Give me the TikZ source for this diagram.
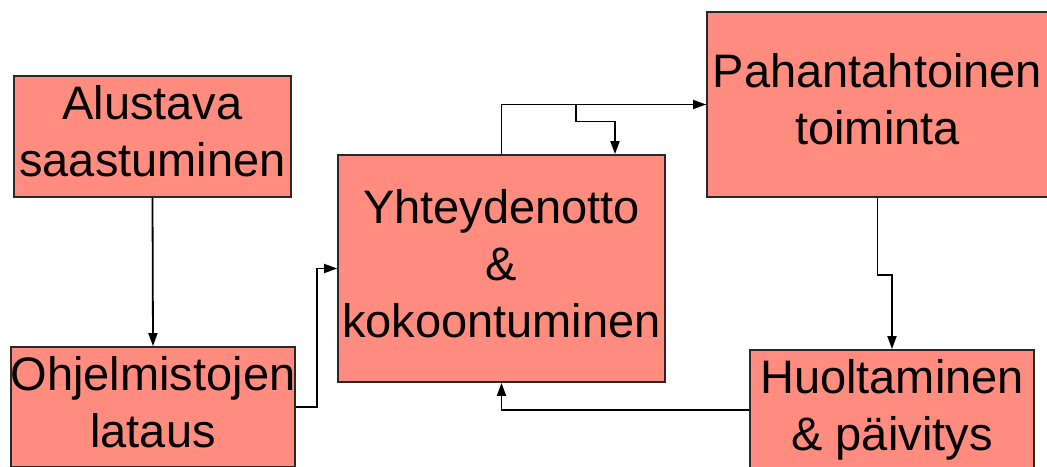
\documentclass[tikz,border=0pt]{standalone}
\usepackage{fontspec}
\setmainfont{Liberation Sans}
\usetikzlibrary{arrows.meta}
\definecolor{boxred}{RGB}{255,140,126}
\definecolor{linegray}{RGB}{40,40,40}

\begin{document}
\begin{tikzpicture}[x=1pt, y=-1pt, line width=1.8pt,
		box/.style={rectangle,draw=linegray,fill=boxred,inner sep=0pt,align=center,text depth=11pt,font=\fontsize{47}{57}\selectfont},
		conn/.style={draw=black,line width=1.8pt,-{Triangle[length=13pt,width=9pt]}}]
		\clip (0,0) rectangle (1047,466);
		\fill[white] (0,0) rectangle (1047,466);

		\node[box,minimum width=277,minimum height=121] (alustava) at (152.5,136.5) {Alustava\\saastuminen};
		\node[box,minimum width=284,minimum height=120] (lataus) at (153,407) {Ohjelmistojen\\lataus};
		\node[box,minimum width=327,minimum height=227] (yhteys) at (501.5,268.5) {Yhteydenotto\\\&\\kokoontuminen};
		\node[box,minimum width=341,minimum height=185] (toiminta) at (877.5,104.5) {Pahantahtoinen\\toiminta};
		\node[box,minimum width=284,minimum height=120] (huolto) at (892,410) {Huoltaminen\\\& päivitys};

		\draw[conn] (alustava.south) -- (lataus.north);
		\draw[conn] (lataus.east) -- ++(21,0) |- (yhteys.west);
		\draw[conn] (yhteys.north) |- (toiminta.west);
		\draw[conn] (toiminta.west) -- ++(-130,0) -- ++(0,17) -| ([xshift=113.5]yhteys.north);
		\draw[conn] (toiminta.south) -- ++(0,77) -| (huolto.north);
		\draw[conn] (huolto.west) -| (yhteys.south);
\end{tikzpicture}
\end{document}
